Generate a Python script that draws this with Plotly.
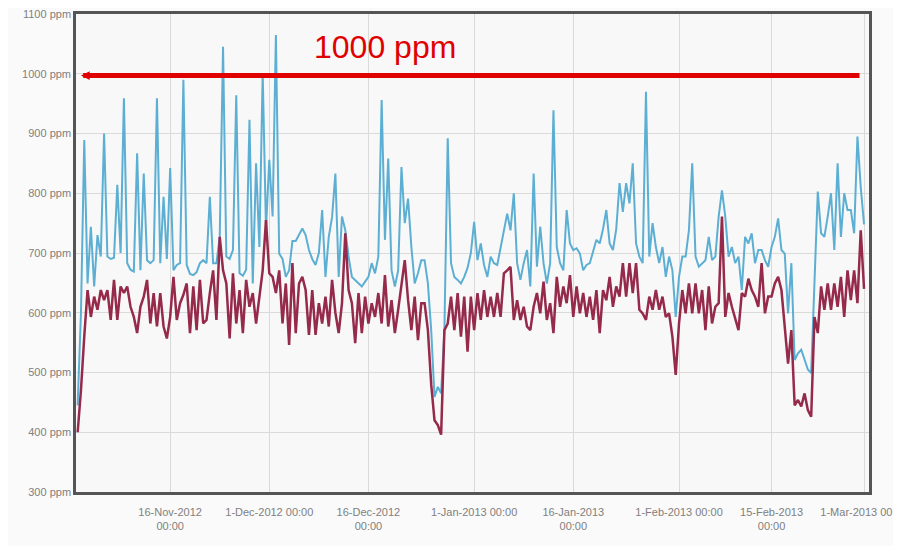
import pandas as pd
import plotly.graph_objects as go

# 12-hourly readings starting 2-Nov-2012 00:00
start = "2012-11-02 00:00"

blue_ppm = [
    445, 600, 889, 649, 744, 644, 730, 694, 900, 694,
    690, 692, 814, 700, 959, 683, 672, 669, 867, 671,
    833, 688, 683, 688, 959, 683, 794, 690, 842, 671,
    680, 683, 990, 680, 665, 663, 668, 683, 688, 683,
    794, 683, 683, 727, 1045, 694, 690, 705, 964, 666,
    662, 672, 923, 649, 850, 710, 1001, 740, 856, 761,
    1065, 699, 690, 660, 671, 720, 720, 730, 741, 730,
    705, 690, 680, 700, 772, 660, 727, 760, 833, 660,
    761, 738, 694, 660, 655, 650, 644, 652, 660, 683,
    666, 694, 956, 722, 858, 671, 644, 671, 844, 750,
    791, 710, 649, 666, 688, 688, 649, 571, 459, 476,
    465, 571, 892, 683, 660, 655, 649, 660, 675, 700,
    752, 688, 716, 680, 660, 694, 683, 680, 710, 740,
    766, 738, 800, 683, 655, 683, 705, 644, 833, 677,
    744, 683, 649, 683, 939, 710, 683, 671, 772, 716,
    705, 708, 699, 671, 680, 683, 705, 722, 716, 740,
    772, 716, 705, 740, 817, 769, 817, 783, 850, 716,
    694, 683, 970, 694, 750, 710, 683, 710, 660, 694,
    671, 593, 660, 694, 694, 738, 850, 694, 677, 683,
    688, 727, 688, 694, 761, 805, 761, 694, 710, 683,
    694, 638, 727, 716, 733, 683, 705, 705, 688, 677,
    710, 727, 758, 705, 699, 599, 683, 521, 532, 538,
    521, 505, 499, 649, 803, 733, 727, 761, 800, 705,
    850, 727, 800, 772, 772, 733, 895, 810, 748,
]

red_ppm = [
    400, 470, 560, 638, 593, 627, 605, 638, 621, 638,
    588, 655, 588, 644, 633, 644, 610, 593, 566, 610,
    627, 655, 582, 633, 577, 633, 577, 557, 593, 660,
    588, 616, 630, 649, 566, 644, 571, 655, 582, 588,
    633, 671, 588, 727, 671, 649, 557, 666, 582, 638,
    566, 655, 610, 633, 582, 627, 671, 755, 666, 660,
    633, 671, 582, 649, 546, 683, 566, 649, 660, 638,
    563, 638, 563, 616, 582, 627, 577, 655, 600, 566,
    616, 733, 638, 616, 549, 633, 566, 627, 582, 616,
    593, 633, 582, 663, 577, 621, 566, 605, 650, 688,
    621, 571, 627, 554, 616, 616, 571, 480, 420, 412,
    396, 571, 582, 627, 571, 633, 560, 627, 535, 627,
    571, 633, 588, 638, 593, 627, 593, 633, 593, 666,
    671, 677, 588, 621, 588, 610, 577, 571, 610, 633,
    599, 652, 588, 616, 566, 660, 610, 644, 616, 663,
    593, 644, 599, 633, 593, 627, 588, 638, 566, 638,
    621, 660, 610, 644, 627, 683, 627, 683, 633, 683,
    605, 599, 588, 627, 605, 638, 605, 627, 593, 599,
    560, 496, 582, 638, 599, 649, 599, 649, 599, 638,
    571, 644, 582, 610, 616, 761, 593, 633, 610, 590,
    571, 633, 627, 657, 638, 627, 610, 683, 599, 627,
    627, 649, 660, 638, 571, 515, 571, 445, 454, 443,
    465, 437, 426, 593, 566, 644, 605, 649, 605, 649,
    610, 660, 593, 671, 621, 671, 616, 738, 640,
]

times = pd.date_range(start, periods=len(blue_ppm), freq="12h")

tick_dates = ["2012-11-16", "2012-12-01", "2012-12-16", "2013-01-01",
              "2013-01-16", "2013-02-01", "2013-02-15", "2013-03-01"]
tick_labels = ["16-Nov-2012<br>00:00", "1-Dec-2012 00:00", "16-Dec-2012<br>00:00",
               "1-Jan-2013 00:00", "16-Jan-2013<br>00:00", "1-Feb-2013 00:00",
               "15-Feb-2013<br>00:00", "1-Mar-2013 00:00"]
y_ticks = [300, 400, 500, 600, 700, 800, 900, 1000, 1100]
y_labels = [f"{v} ppm" for v in y_ticks]

fig = go.Figure()
fig.add_trace(go.Scatter(x=times, y=blue_ppm, mode="lines",
                         line=dict(color="#5cafd2", width=2), hoverinfo="skip"))
fig.add_trace(go.Scatter(x=times, y=red_ppm, mode="lines",
                         line=dict(color="#952a4b", width=2.5), hoverinfo="skip"))

# threshold arrow
fig.add_annotation(x="2012-11-02 12:00", y=997, ax="2013-02-28 13:00", ay=997,
                   xref="x", yref="y", axref="x", ayref="y",
                   showarrow=True, arrowhead=2, arrowsize=0.35, arrowwidth=5,
                   arrowcolor="#e00000", text="")
fig.add_annotation(x=0.3894, y=0.932, xref="paper", yref="paper",
                   text="1000 ppm", showarrow=False,
                   font=dict(family="Liberation Sans, Arial", size=32, color="#e00000"),
                   xanchor="center", yanchor="middle")

fig.update_layout(
    width=893, height=538,
    margin=dict(l=68, r=32, t=6, b=54, autoexpand=False),
    paper_bgcolor="#fafafa", plot_bgcolor="#f8f8f8",
    showlegend=False,
    font=dict(family="Liberation Sans, Arial", size=11, color="#808080"),
)
fig.update_xaxes(range=["2012-11-01 18:00", "2013-03-01 18:00"],
                 tickvals=tick_dates, ticktext=tick_labels, tickangle=0,
                 ticklabeloverflow="allow", ticklabelstandoff=8,
                 showgrid=True, gridcolor="#dadada", gridwidth=1,
                 showline=True, linecolor="#555555", linewidth=2.5, mirror=True,
                 ticks="", zeroline=False)
fig.update_yaxes(range=[300, 1100], tickvals=y_ticks, ticktext=y_labels,
                 ticklabeloverflow="allow",
                 showgrid=True, gridcolor="#dadada", gridwidth=1,
                 showline=True, linecolor="#555555", linewidth=2.5, mirror=True,
                 ticks="", zeroline=False)

fig.write_html("out.html")
